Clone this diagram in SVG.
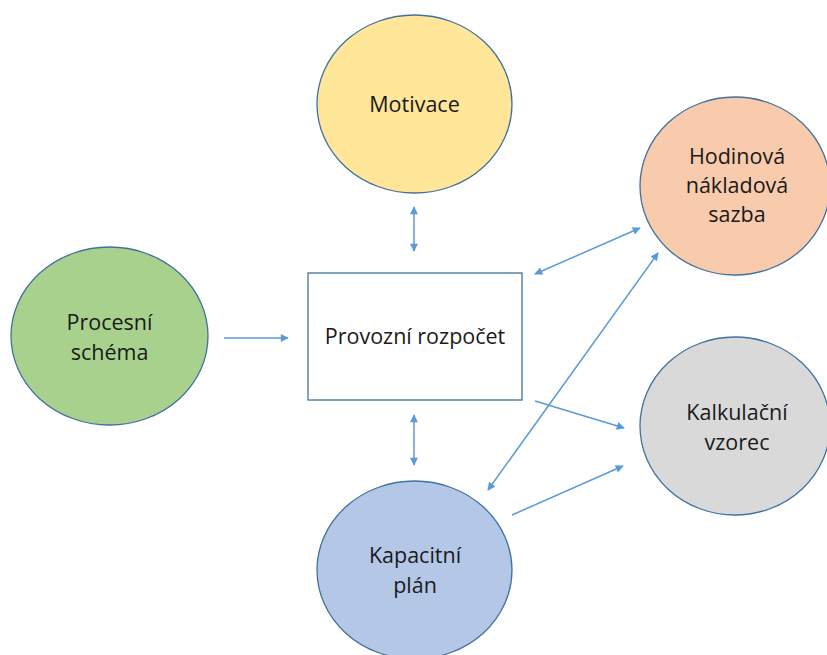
<svg xmlns="http://www.w3.org/2000/svg" width="827" height="655" viewBox="0 0 827 655">
  <style>
    .node { stroke: #41719C; stroke-width: 1.3; }
    .lbl { font-family: "Open Sans", "Liberation Sans", sans-serif; font-size: 21.5px; fill: #1a1a1a; text-anchor: middle; }
    .conn { stroke: #5B9BD5; stroke-width: 1.5; fill: none; }
  </style>
  <defs>
    <marker id="head" viewBox="0 0 10 10" refX="9" refY="5" markerWidth="9" markerHeight="8" markerUnits="userSpaceOnUse" orient="auto-start-reverse">
      <path d="M0,0 L10,5 L0,10 Z" fill="#5B9BD5"/>
    </marker>
  </defs>
  <rect width="827" height="655" fill="#ffffff"/>

  <g id="motivace">
    <ellipse class="node" cx="414.5" cy="104" rx="97.5" ry="89" fill="#FFE699"/>
    <text class="lbl" x="414.5" y="112">Motivace</text>
  </g>

  <g id="procesni-schema">
    <ellipse class="node" cx="109.5" cy="336" rx="98.5" ry="89" fill="#A9D18E"/>
    <text class="lbl" x="109.5" y="330">Procesní</text>
    <text class="lbl" x="109.5" y="360">schéma</text>
  </g>

  <g id="provozni-rozpocet">
    <rect class="node" x="308" y="273" width="214" height="127" fill="#ffffff"/>
    <text class="lbl" x="415" y="344">Provozní rozpočet</text>
  </g>

  <g id="hodinova-sazba">
    <ellipse class="node" cx="735" cy="186" rx="95" ry="89" fill="#F8CBAD"/>
    <text class="lbl" x="737" y="164">Hodinová</text>
    <text class="lbl" x="737" y="193">nákladová</text>
    <text class="lbl" x="737" y="222">sazba</text>
  </g>

  <g id="kalkulacni-vzorec">
    <ellipse class="node" cx="735" cy="426" rx="95" ry="89" fill="#D9D9D9"/>
    <text class="lbl" x="737" y="420">Kalkulační</text>
    <text class="lbl" x="737" y="450">vzorec</text>
  </g>

  <g id="kapacitni-plan">
    <ellipse class="node" cx="414.5" cy="570" rx="97.5" ry="89" fill="#B4C7E7"/>
    <text class="lbl" x="415" y="563">Kapacitní</text>
    <text class="lbl" x="415" y="593">plán</text>
  </g>

  <g id="connectors">
    <line class="conn" x1="414" y1="207" x2="414" y2="251" marker-start="url(#head)" marker-end="url(#head)"/>
    <line class="conn" x1="224" y1="338" x2="288" y2="338" marker-end="url(#head)"/>
    <line class="conn" x1="414" y1="415" x2="414" y2="465" marker-start="url(#head)" marker-end="url(#head)"/>
    <line class="conn" x1="535" y1="274" x2="640" y2="228" marker-start="url(#head)" marker-end="url(#head)"/>
    <line class="conn" x1="488" y1="490" x2="658" y2="253" marker-start="url(#head)" marker-end="url(#head)"/>
    <line class="conn" x1="535" y1="401" x2="624" y2="428" marker-end="url(#head)"/>
    <line class="conn" x1="512" y1="515" x2="623" y2="466" marker-end="url(#head)"/>
  </g>
</svg>
